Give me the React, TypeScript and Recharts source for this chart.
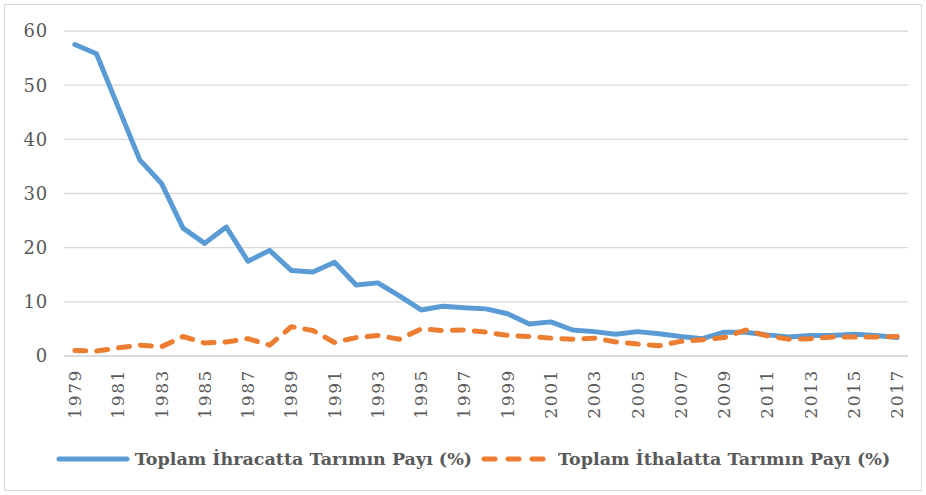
import React from "react";
import { LineChart, Line, XAxis, YAxis, CartesianGrid } from "recharts";

const years = [
  "1979","1980","1981","1982","1983","1984","1985","1986","1987","1988",
  "1989","1990","1991","1992","1993","1994","1995","1996","1997","1998",
  "1999","2000","2001","2002","2003","2004","2005","2006","2007","2008",
  "2009","2010","2011","2012","2013","2014","2015","2016","2017",
];
const ihracat = [
  57.5, 55.8, 46.0, 36.2, 31.9, 23.6, 20.8, 23.8, 17.5, 19.5,
  15.8, 15.5, 17.3, 13.1, 13.5, 11.1, 8.5, 9.2, 8.9, 8.7,
  7.8, 5.9, 6.3, 4.8, 4.5, 4.0, 4.5, 4.1, 3.6, 3.2,
  4.4, 4.4, 3.9, 3.5, 3.8, 3.8, 4.0, 3.8, 3.4,
];
const ithalat = [
  1.0, 0.9, 1.5, 2.0, 1.7, 3.6, 2.4, 2.6, 3.2, 2.0,
  5.4, 4.7, 2.5, 3.4, 3.8, 3.1, 5.0, 4.7, 4.8, 4.4,
  3.8, 3.6, 3.3, 3.1, 3.3, 2.6, 2.2, 1.9, 2.7, 3.0,
  3.4, 4.8, 3.7, 3.1, 3.2, 3.5, 3.5, 3.5, 3.6,
];
const yTicks = [0, 10, 20, 30, 40, 50, 60];
const seriesNames = ["Toplam İhracatta Tarımın Payı (%)", "Toplam İthalatta Tarımın Payı (%)"];

const data = years.map((y, i) => ({ year: y, ihr: ihracat[i], ith: ithalat[i] }));

const BLUE = "#5b9bd5";
const ORANGE = "#ed7d31";
const FONT = "'DejaVu Serif', serif";

const XTick = (props: any) => {
  const { x, y, payload } = props;
  return (
    <g transform={`translate(${x},${y})`}>
      <text
        transform="rotate(-90)"
        x={0}
        y={0}
        dy="0.36em"
        textAnchor="end"
        fill="#595959"
        fontSize={17}
        fontFamily={FONT}
        letterSpacing={1.6}
      >
        {payload.value}
      </text>
    </g>
  );
};

export default function App() {
  return (
    <div style={{ position: "absolute", left: 0, top: 0, width: 926, height: 495, background: "#fff" }}>
      <div
        style={{
          position: "absolute",
          left: 4,
          top: 4,
          width: 918,
          height: 487,
          border: "1px solid #d9d9d9",
          boxSizing: "border-box",
        }}
      />
      <div style={{ position: "absolute", left: 0, top: 0 }}>
        <LineChart
          width={926}
          height={495}
          data={data}
          margin={{ top: 31, right: 18, left: 0, bottom: 59 }}
        >
          <CartesianGrid vertical={false} stroke="#d9d9d9" strokeWidth={1.3} />
          <XAxis
            dataKey="year"
            scale="band"
            interval={1}
            tick={<XTick />}
            tickLine={false}
            axisLine={{ stroke: "#d9d9d9", strokeWidth: 1.3 }}
            tickSize={0}
            tickMargin={13}
            height={80}
          />
          <YAxis
            domain={[0, 60]}
            ticks={yTicks}
            width={64}
            axisLine={false}
            tickLine={false}
            tickSize={0}
            tickMargin={16}
            tick={{ fill: "#595959", fontSize: 18, fontFamily: FONT, letterSpacing: 0.8 }}
          />
          <Line
            type="linear"
            dataKey="ihr"
            stroke={BLUE}
            strokeWidth={5}
            dot={false}
            strokeLinejoin="round"
            strokeLinecap="round"
            isAnimationActive={false}
          />
          <Line
            type="linear"
            dataKey="ith"
            stroke={ORANGE}
            strokeWidth={5}
            dot={false}
            strokeDasharray="11 11"
            strokeLinecap="round"
            strokeLinejoin="round"
            isAnimationActive={false}
          />
        </LineChart>
      </div>
      <div
        style={{
          position: "absolute",
          left: 10,
          top: 446,
          width: 926,
          height: 26,
          display: "flex",
          justifyContent: "center",
          alignItems: "center",
          fontFamily: FONT,
          fontWeight: "bold",
          fontSize: 17.5,
          color: "#595959",
          whiteSpace: "nowrap",
        }}
      >
        <svg width={74} height={10} style={{ marginRight: 5 }}>
          <line x1={3} y1={5} x2={71} y2={5} stroke={BLUE} strokeWidth={5} strokeLinecap="round" />
        </svg>
        <span style={{ marginRight: 8 }}>{seriesNames[0]}</span>
        <svg width={70} height={10} style={{ marginRight: 8 }}>
          <line x1={4} y1={5} x2={66} y2={5} stroke={ORANGE} strokeWidth={5} strokeLinecap="round" strokeDasharray="11 13" />
        </svg>
        <span>{seriesNames[1]}</span>
      </div>
    </div>
  );
}
